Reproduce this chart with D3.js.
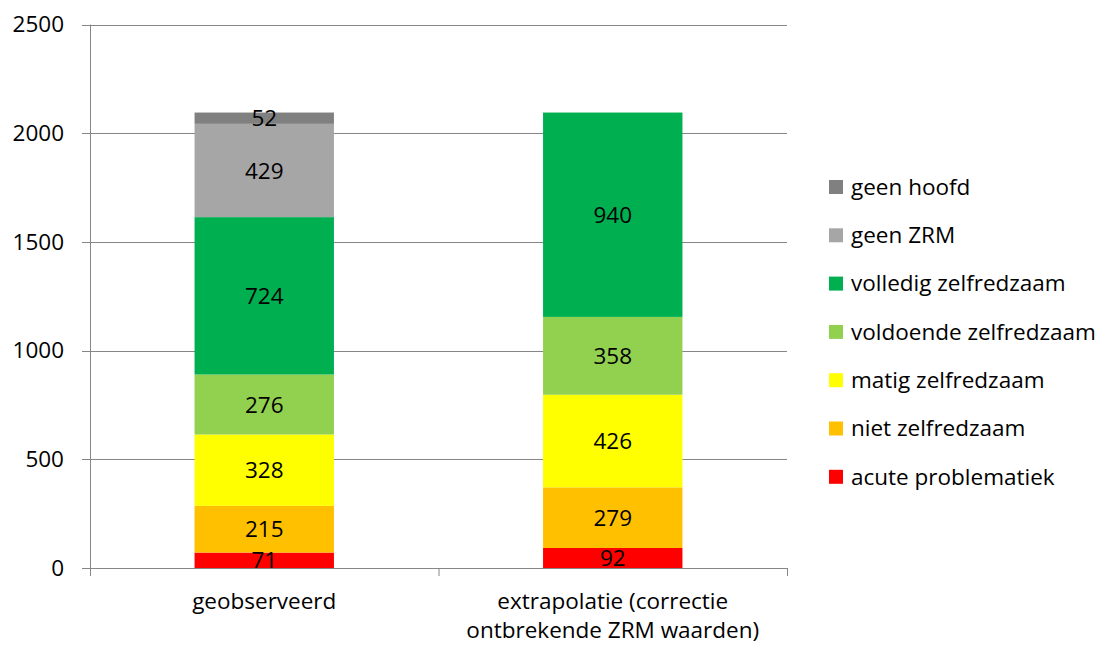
<!DOCTYPE html>
<html><head><meta charset="utf-8">
<script src="https://cdn.jsdelivr.net/npm/d3@7"></script>
<style>body{margin:0;background:#fff}svg{font-family:"Open Sans",Lato,sans-serif}</style>
</head><body><svg id="c" width="1105" height="646"></svg>
<script>
const categories = [["geobserveerd"], ["extrapolatie (correctie", "ontbrekende ZRM waarden)"]];
const seriesNames = ["acute problematiek","niet zelfredzaam","matig zelfredzaam","voldoende zelfredzaam","volledig zelfredzaam","geen ZRM","geen hoofd"];
const seriesColors = ["#FF0000","#FFC000","#FFFF00","#92D050","#00B050","#A6A6A6","#808080"];
const valuesObserved = [71,215,328,276,724,429,52];
const valuesExtrapolated = [92,279,426,358,940,0,0];
const yTicks = [0,500,1000,1500,2000,2500];

const FS = 22.5;
const svg = d3.select("#c");
const L=90,R=787,T=24.5,B=568;
const x = d3.scaleBand().domain([0,1]).range([L,R]).paddingInner(0.6).paddingOuter(0.3);
const y = d3.scaleLinear().domain([0,2500]).range([B,T]);
const rows = [valuesObserved, valuesExtrapolated];
const stackData = rows.map((r,i)=>{const o={i}; seriesNames.forEach((s,k)=>o[s]=r[k]); return o;});
const stacked = d3.stack().keys(seriesNames)(stackData);

// gridlines
svg.append("g").selectAll("line").data(yTicks.slice(1)).join("line")
  .attr("x1",L-8).attr("x2",R).attr("y1",d=>Math.round(y(d))+0.5).attr("y2",d=>Math.round(y(d))+0.5)
  .attr("stroke","#868686").attr("stroke-width",1);
// y axis
svg.append("line").attr("x1",L+0.5).attr("x2",L+0.5).attr("y1",T).attr("y2",B).attr("stroke","#868686");
svg.append("g").selectAll("text").data(yTicks).join("text")
  .attr("x",64).attr("y",d=>y(d)).attr("dy","0.35em").attr("text-anchor","end")
  .attr("font-size",FS).attr("fill","#000").text(d=>d);

// bars
stacked.forEach((layer,k)=>{
  svg.append("g").selectAll("rect").data(layer).join("rect")
    .attr("x",(d,i)=>x(i)).attr("width",x.bandwidth())
    .attr("y",d=>y(d[1])).attr("height",d=>y(d[0])-y(d[1]))
    .attr("fill",seriesColors[k]);
});
stacked.forEach((layer,k)=>{
  svg.append("g").selectAll("text").data(layer.filter(d=>d[1]-d[0]>0)).join("text")
    .attr("x",d=>x(d.data.i)+x.bandwidth()/2).attr("y",d=>(y(d[0])+y(d[1]))/2).attr("dy","0.36em")
    .attr("text-anchor","middle").attr("font-size",FS).attr("fill","#000").text(d=>d[1]-d[0]);
});

// x axis
svg.append("line").attr("x1",L-8).attr("x2",R).attr("y1",B+0.5).attr("y2",B+0.5).attr("stroke","#868686");
const step=(R-L)/2;
[0,1,2].forEach(j=>svg.append("line").attr("x1",L+j*step+0.5).attr("x2",L+j*step+0.5).attr("y1",B).attr("y2",B+8).attr("stroke","#868686"));
categories.forEach((lines,i)=>{
  lines.forEach((t,li)=>svg.append("text").attr("x",x(i)+x.bandwidth()/2).attr("y",609+li*29)
    .attr("text-anchor","middle").attr("font-size",FS).attr("fill","#000").text(t));
});

// legend
const legOrder = seriesNames.map((s,k)=>k).reverse();
const lg = svg.append("g");
legOrder.forEach((k,j)=>{
  const cy = 187 + j*48.3;
  lg.append("rect").attr("x",829).attr("y",cy-7).attr("width",14).attr("height",14).attr("fill",seriesColors[k]);
  lg.append("text").attr("x",851).attr("y",cy).attr("dy","0.35em").attr("font-size",FS).attr("fill","#000").text(seriesNames[k]);
});
</script></body></html>
